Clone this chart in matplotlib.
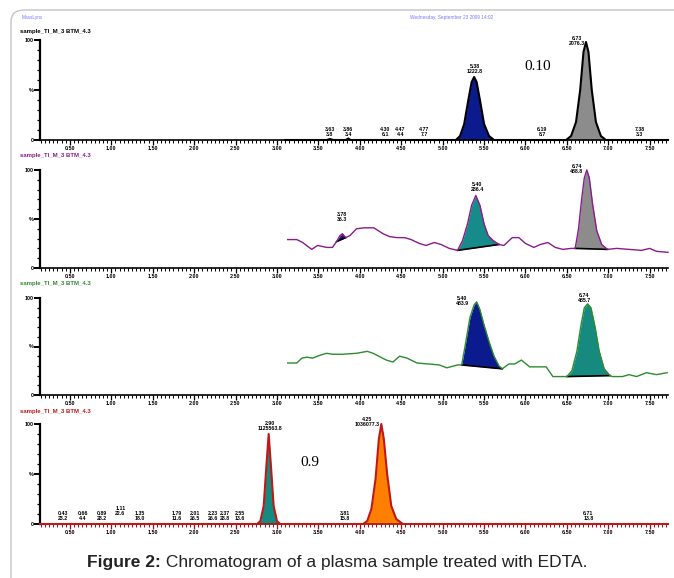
import numpy as np
import matplotlib
matplotlib.use("Agg")
import matplotlib.pyplot as plt
from matplotlib.patches import FancyBboxPatch
from matplotlib.ticker import MultipleLocator, FixedLocator

plt.rcParams['font.family'] = ['Liberation Sans', 'DejaVu Sans']

# ---- data (retention time in min, relative intensity in %) ----
titles = ["sample_TI_M_3 BTM_4.3"] * 4

# trace 1 (black) - TI channel 0.10
rt1 = [3.10, 3.60, 3.64, 3.68, 3.83, 3.86, 3.89, 5.16, 5.21, 5.26, 5.31, 5.35,
       5.38, 5.41, 5.45, 5.50, 5.56, 5.62, 6.49, 6.55, 6.61, 6.66, 6.70, 6.73,
       6.76, 6.80, 6.85, 6.91, 6.97, 7.72]
ab1 = [0, 0, 1, 0, 0, 1.5, 0, 0, 4, 16, 40, 58,
       63, 58, 40, 16, 4, 0, 0, 4, 18, 50, 88, 98,
       88, 50, 18, 4, 0, 0]

# trace 2 (purple)
rt2 = [3.13, 3.24, 3.31, 3.42, 3.49, 3.60, 3.67, 3.72, 3.76, 3.79, 3.83, 3.88,
       3.96, 4.05, 4.17, 4.28, 4.36, 4.45, 4.54, 4.62, 4.72, 4.80, 4.90, 4.98,
       5.08, 5.18, 5.24, 5.30, 5.35, 5.40, 5.45, 5.50, 5.55, 5.61, 5.68, 5.74,
       5.84, 5.92, 6.00, 6.10, 6.18, 6.27, 6.36, 6.45, 6.55, 6.60, 6.64, 6.68,
       6.71, 6.74, 6.77, 6.81, 6.86, 6.92, 6.99, 7.10, 7.25, 7.40, 7.50, 7.58,
       7.72]
ab2 = [29, 29, 26, 19, 23, 21, 21, 27, 33, 35, 31, 33,
       40, 41, 41, 35, 32, 31, 31, 29, 25, 23, 26, 24,
       20, 18, 28, 45, 64, 74, 64, 45, 33, 28, 24, 23,
       31, 31, 25, 21, 24, 26, 21, 19, 20, 20, 40, 72,
       92, 100, 92, 65, 38, 24, 19, 20, 19, 18, 20, 17,
       16]

# trace 3 (green)
rt3 = [3.13, 3.24, 3.30, 3.36, 3.43, 3.52, 3.60, 3.67, 3.79, 3.96, 4.09, 4.16,
       4.32, 4.40, 4.48, 4.57, 4.69, 4.96, 5.05, 5.18, 5.23, 5.28, 5.33, 5.38,
       5.41, 5.45, 5.50, 5.56, 5.62, 5.68, 5.72, 5.80, 5.87, 5.95, 6.05, 6.17,
       6.25, 6.33, 6.45, 6.50, 6.56, 6.62, 6.67, 6.71, 6.75, 6.79, 6.84, 6.89,
       6.95, 7.02, 7.05, 7.17, 7.25, 7.34, 7.46, 7.58, 7.71]
ab3 = [33, 33, 38, 39, 38, 41, 43, 42, 42, 43, 45, 43,
       36, 34, 40, 38, 33, 31, 28, 31, 31, 55, 80, 93,
       96, 88, 72, 55, 40, 30, 27, 32, 32, 36, 29, 29,
       29, 19, 19, 19, 25, 45, 72, 90, 94, 90, 70, 45,
       27, 20, 19, 19, 21, 19, 23, 21, 23]

# trace 4 (red) - channel 0.9
rt4 = [0.14, 2.76, 2.80, 2.84, 2.87, 2.90, 2.93, 2.96, 3.00, 3.04, 4.04, 4.09,
       4.14, 4.19, 4.23, 4.26, 4.29, 4.33, 4.38, 4.44, 4.52, 7.72]
ab4 = [0, 0, 3, 18, 55, 90, 55, 18, 3, 0, 0, 3,
       15, 45, 85, 100, 85, 50, 18, 5, 0, 0]

# integrated peaks: (start, end, fill colour)
peaks1 = [(5.16, 5.62, '#0b1a8c'), (6.49, 6.97, '#8c8c8c')]
peaks2 = [(3.72, 3.83, '#2b1570'), (5.18, 5.68, '#178a8a'), (6.60, 6.99, '#8c8c8c')]
peaks3 = [(5.23, 5.72, '#0b1a8c'), (6.50, 7.02, '#178a80')]
peaks4 = [(2.76, 3.04, '#178a80'), (4.04, 4.52, '#ff8000')]

# peak labels: (time, %, "RT\narea")
labels1 = [(3.64, 3, "3.63\n3.8"), (3.86, 3, "3.86\n3.4"), (4.31, 3, "4.30\n6.1"),
           (4.49, 3, "4.47\n4.4"), (4.78, 3, "4.77\n7.7"), (5.39, 66, "5.38\n1222.8"),
           (6.20, 3, "6.19\n8.7"), (6.62, 94, "6.73\n2076.3"), (7.38, 3, "7.38\n3.3")]
labels2 = [(3.78, 47, "3.78\n36.3"), (5.42, 78, "5.40\n286.4"), (6.62, 96, "6.74\n488.8")]
labels3 = [(5.24, 92, "5.40\n483.9"), (6.71, 95, "6.74\n485.7")]
labels4 = [(0.42, 3, "0.43\n23.2"), (0.66, 3, "0.66\n4.4"), (0.89, 3, "0.89\n28.2"),
           (1.11, 8, "1.11\n22.6"), (1.35, 3, "1.35\n18.0"), (1.79, 3, "1.79\n11.6"),
           (2.01, 3, "2.01\n26.5"), (2.23, 3, "2.23\n26.6"), (2.37, 3, "2.37\n28.8"),
           (2.55, 3, "2.55\n13.6"), (2.91, 93, "2.90\n1125563.8"),
           (3.82, 3, "3.81\n15.8"), (4.09, 97, "4.25\n1036077.3"), (6.76, 3, "6.71\n13.8")]

xticks = [0.5 * i for i in range(1, 16)]
xtick_labels = ["%.2f" % v for v in xticks]

# ---- figure ----
W, H = 674, 578
fig = plt.figure(figsize=(W / 100, H / 100), dpi=100)

frame = FancyBboxPatch((11 / W, -0.1), 1.2, 1 - 10 / H + 0.1,
                       boxstyle="round,pad=0,rounding_size=0.02",
                       transform=fig.transFigure, fill=False,
                       ec='#c4c4c4', lw=1.0)
fig.add_artist(frame)

fig.text(22 / W, 1 - 18 / H, "MassLynx", fontsize=3.4, color='#7878ff', va='center')
fig.text(452 / W, 1 - 17 / H, "Wednesday, September 23 2009 14:02", fontsize=3.4,
         color='#7878ff', va='center', ha='center')

# panel boxes in pixels: (top of 100 %, bottom at 0 %)
boxes = [(40, 140), (170, 268), (298, 395), (424, 524)]
title_y = [31, 155, 283, 411]
line_cols = ['black', '#8b1a8b', '#2e8b2e', '#c01818']
axis_cols = ['black', 'black', 'black', '#a01010']
traces = [(rt1, ab1), (rt2, ab2), (rt3, ab3), (rt4, ab4)]
peaks = [peaks1, peaks2, peaks3, peaks4]
labels = [labels1, labels2, labels3, labels4]

x0, x1 = 40, 668
for i in range(4):
    top, bot = boxes[i]
    ax = fig.add_axes([x0 / W, 1 - bot / H, (x1 - x0) / W, (bot - top) / H])
    t = np.array(traces[i][0])
    y = np.array(traces[i][1])

    for (a, b, c) in peaks[i]:
        m = (t >= a) & (t <= b)
        tt, yy = t[m], y[m]
        base = np.interp(tt, [tt[0], tt[-1]], [yy[0], yy[-1]])
        ax.fill_between(tt, base, yy, color=c, lw=0, zorder=2)
        if i in (1, 2):
            ax.plot([tt[0], tt[-1]], [yy[0], yy[-1]], color='black', lw=1.2, zorder=3)

    lw = 1.5 if i in (0, 3) else 1.0
    ax.plot(t, y, color=line_cols[i], lw=lw, zorder=4, clip_on=False)

    for (lx, ly, txt) in labels[i]:
        ax.text(lx, ly, txt, fontsize=3.8, fontweight='bold', ha='center',
                va='bottom', linespacing=1.0, clip_on=False, zorder=5)

    ax.set_xlim(0.14, 7.72)
    ax.set_ylim(0, 100)
    for s in ['top', 'right']:
        ax.spines[s].set_visible(False)
    ax.spines['left'].set_linewidth(1.6)
    ax.spines['bottom'].set_linewidth(1.2)
    ax.spines['bottom'].set_color(axis_cols[i])
    ax.xaxis.set_major_locator(FixedLocator(xticks))
    ax.set_xticklabels(xtick_labels, fontsize=3.9, fontweight='bold')
    ax.xaxis.set_minor_locator(MultipleLocator(0.05))
    ax.tick_params(axis='x', which='major', length=3.5, width=0.9,
                   color=axis_cols[i], pad=0.6)
    ax.tick_params(axis='x', which='minor', length=2, width=0.7, color=axis_cols[i])
    ax.set_yticks([0, 50, 100])
    ax.set_yticklabels(['0', '%', '100'], fontsize=3.9, fontweight='bold')
    ax.yaxis.set_minor_locator(MultipleLocator(10))
    ax.tick_params(axis='y', which='major', length=4, width=1.4, pad=0.5)
    ax.tick_params(axis='y', which='minor', length=2.5, width=0.9)
    ax.patch.set_alpha(0)

    fig.text(20 / W, 1 - title_y[i] / H, titles[i], fontsize=4.3, fontweight='bold',
             color=line_cols[i], va='center')

    if i == 0:
        ax.text(6.15, 73, "0.10", fontsize=11, family=['Liberation Serif', 'DejaVu Serif'],
                ha='center', va='center')
    if i == 3:
        ax.text(3.40, 62, "0.9", fontsize=11, family=['Liberation Serif', 'DejaVu Serif'],
                ha='center', va='center')

# caption
fig.canvas.draw()
r = fig.canvas.get_renderer()
cy = 1 - 563 / H
c1 = fig.text(0, cy, "Figure 2:", fontsize=12.5, fontweight='bold', color='#222222', va='center')
c2 = fig.text(0, cy, " Chromatogram of a plasma sample treated with EDTA.", fontsize=12.5,
              color='#222222', va='center')
w1 = c1.get_window_extent(r).width
w2 = c2.get_window_extent(r).width
start = (W - (w1 + w2)) / 2
c1.set_x(start / W)
c2.set_x((start + w1) / W)

fig.savefig("out.png", dpi=100)
